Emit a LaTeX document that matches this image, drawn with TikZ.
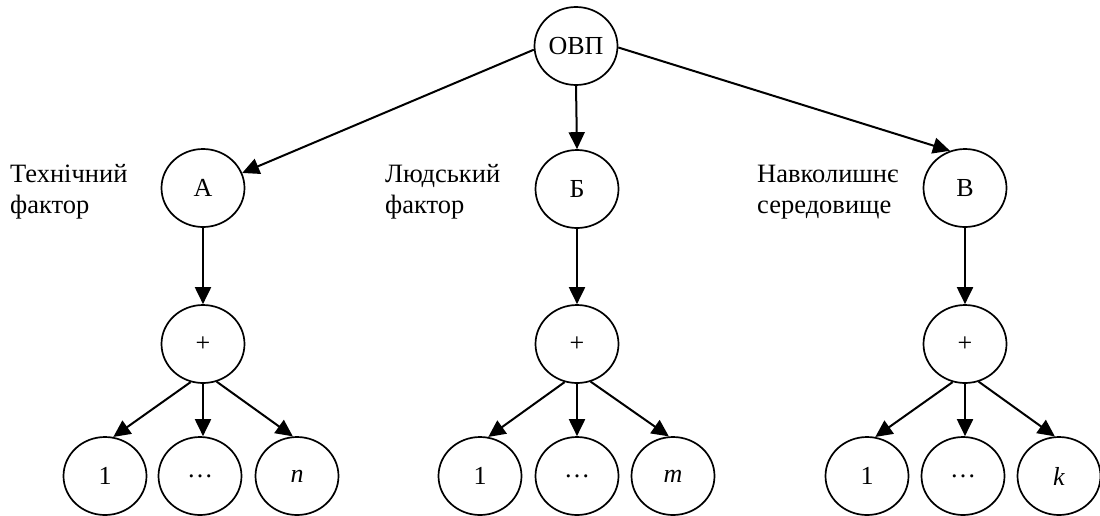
\documentclass[tikz,border=0pt]{standalone}
\usepackage{fontspec}
\setmainfont{Liberation Serif}
\usetikzlibrary{shapes.geometric,arrows.meta}
\begin{document}
\begin{tikzpicture}[x=1pt,y=-1pt,
  oval/.style={ellipse,draw,line width=1.7pt,minimum width=83pt,minimum height=78pt,
    inner sep=0pt,font=\fontsize{26}{30}\selectfont},
  link/.style={line width=2pt,-{Triangle[length=17pt,width=16pt]}},
  factor/.style={anchor=west,align=left,inner sep=0pt,font=\fontsize{26.5}{31}\selectfont}]
\useasboundingbox (0,0) rectangle (1100,515);

% root
\node[oval] (ovp) at (576,46) {ОВП};

% factor groups
\node[oval] (fa) at (203,188) {А};
\node[oval] (fb) at (577,189) {Б};
\node[oval] (fc) at (965,188) {В};

\node[factor] (la) at (10,192) {Технічний\\фактор};
\node[factor] (lb) at (385,192) {Людський\\фактор};
\node[factor] (lc) at (757,192) {Навколишнє\\середовище};

% sum nodes
\node[oval] (sa) at (203,344) {+};
\node[oval] (sb) at (577,344) {+};
\node[oval] (sc) at (965,344) {+};

% leaves
\node[oval] (a1) at (105,476) {1};
\node[oval] (a2) at (200,476) {\dots};
\node[oval] (a3) at (297,476) {\textit{n}};
\node[oval] (b1) at (480,476) {1};
\node[oval] (b2) at (577,476) {\dots};
\node[oval] (b3) at (673,476) {\textit{m}};
\node[oval] (c1) at (867,476) {1};
\node[oval] (c2) at (963,476) {\dots};
\node[oval] (c3) at (1059,476) {\textit{k}};

% connectors
\draw[link] (ovp.185) -- (fa.21);
\draw[link] (ovp.south) -- (fb.north);
\draw[link] (ovp.358) -- (fc.112);

\draw[link] (fa.south) -- (sa.north);
\draw[link] (fb.south) -- (sb.north);
\draw[link] (fc.south) -- (sc.north);

\foreach \g in {a,b,c}{
  \draw[link] (s\g.252) -- (\g1.78);
  \draw[link] (s\g.south) -- (s\g.south |- \g2.north);
  \draw[link] (s\g.290) -- (\g3.96);
}
\end{tikzpicture}
\end{document}
